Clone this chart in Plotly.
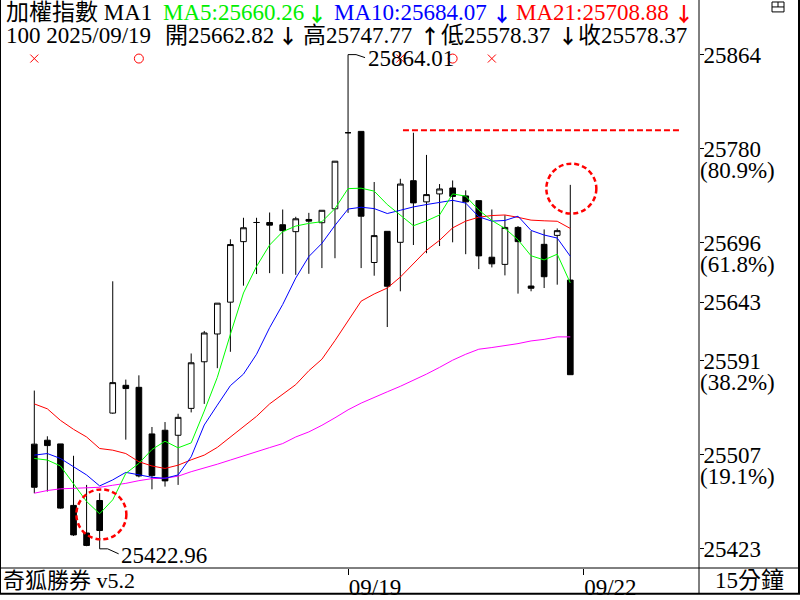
import plotly.graph_objects as go

# ---------------- data ----------------
idx = list(range(42))
opens = [25516.4, 25519.9, 25516.6, 25461.7, 25437.1, 25466.1, 25544.1, 25568.9, 25567.1, 25525.5,
         25528.8, 25524.3, 25548.3, 25589.9, 25614.7, 25643.1, 25697.1, 25714.2, 25714.2, 25712.2,
         25706.0, 25716.9, 25714.0, 25726.4, 25794.3, 25795.5, 25678.5, 25706.3, 25696.5, 25751.5,
         25732.6, 25739.7, 25745.0, 25737.9, 25733.7, 25683.2, 25676.8, 25709.8, 25657.5, 25694.7,
         25702.7, 25662.82]
highs = [25564.2, 25523.4, 25516.6, 25506.0, 25480.0, 25472.6, 25661.7, 25574.0, 25577.8, 25531.7,
         25536.1, 25543.5, 25597.3, 25617.4, 25642.2, 25699.2, 25718.4, 25718.4, 25723.1, 25725.8,
         25719.3, 25722.8, 25725.1, 25768.9, 25864.01, 25795.5, 25750.3, 25706.3, 25753.2, 25794.3,
         25774.5, 25748.5, 25751.7, 25742.9, 25733.7, 25725.8, 25720.7, 25711.0, 25706.5, 25708.0,
         25708.9, 25747.77]
lows = [25472.6, 25474.1, 25458.8, 25434.5, 25425.3, 25422.96, 25543.5, 25520.4, 25486.8, 25476.1,
        25478.5, 25480.0, 25544.7, 25552.3, 25584.2, 25598.8, 25657.8, 25668.2, 25669.0, 25668.4,
        25667.5, 25668.4, 25673.5, 25682.3, 25722.8, 25673.5, 25666.7, 25620.9, 25652.8, 25694.1,
        25686.8, 25693.2, 25696.5, 25685.9, 25672.6, 25674.1, 25667.0, 25650.7, 25652.8, 25655.7,
        25658.7, 25578.37]
closes = [25477.9, 25515.1, 25459.3, 25435.4, 25426.0, 25439.3, 25571.3, 25566.0, 25488.0, 25488.3,
          25483.6, 25540.3, 25589.0, 25615.6, 25642.2, 25694.5, 25709.5, 25714.2, 25711.8, 25706.9,
          25717.5, 25715.4, 25725.1, 25768.9, 25794.3, 25719.8, 25702.5, 25657.3, 25748.5, 25731.7,
          25739.1, 25744.1, 25737.5, 25732.6, 25684.4, 25677.3, 25709.8, 25697.1, 25655.5, 25665.8,
          25706.9, 25578.37]

ma5 = [25503.6, 25502.2, 25496.9, 25481.4, 25465.2, 25454.3, 25466.7, 25490.3, 25499.2, 25511.6,
       25519.0, 25513.1, 25517.5, 25545.9, 25576.0, 25614.4, 25651.3, 25675.0, 25694.1, 25706.0,
       25711.0, 25713.4, 25714.9, 25726.6, 25744.4, 25744.8, 25742.2, 25730.2, 25720.7, 25711.3,
       25715.6, 25720.9, 25739.7, 25737.7, 25725.3, 25716.0, 25708.9, 25698.7, 25684.5, 25680.8,
       25685.9, 25660.26]
ma10 = [25506.6, 25508.0, 25503.6, 25496.2, 25488.9, 25479.1, 25484.5, 25491.2, 25488.9, 25486.8,
        25485.9, 25488.9, 25505.1, 25533.5, 25551.2, 25568.6, 25578.9, 25596.6, 25620.3, 25641.0,
        25664.6, 25683.8, 25695.6, 25711.6, 25726.2, 25727.8, 25726.6, 25722.2, 25725.1, 25728.1,
        25730.2, 25732.0, 25734.0, 25731.5, 25719.3, 25715.4, 25716.0, 25719.8, 25707.1, 25703.0,
        25700.3, 25684.07]
ma21 = [25552.3, 25547.9, 25537.6, 25529.6, 25522.8, 25512.5, 25511.0, 25508.0, 25500.7, 25496.9,
        25494.7, 25497.6, 25502.4, 25506.6, 25513.5, 25522.8, 25531.7, 25541.2, 25552.3, 25561.2,
        25569.5, 25581.9, 25592.2, 25608.8, 25626.9, 25644.0, 25650.4, 25655.7, 25665.5, 25677.9,
        25689.4, 25698.3, 25709.4, 25715.4, 25718.9, 25720.4, 25720.9, 25718.8, 25716.3, 25715.7,
        25715.3, 25708.88]
ma100 = [25472.6, 25475.0, 25476.5, 25477.0, 25477.0, 25477.9, 25479.7, 25481.4, 25483.8, 25485.6,
         25486.0, 25487.8, 25491.8, 25494.9, 25498.5, 25502.2, 25505.7, 25509.3, 25513.3, 25516.9,
         25522.8, 25527.3, 25533.2, 25539.9, 25547.0, 25553.0, 25558.3, 25563.1, 25568.0, 25573.1,
         25578.9, 25584.9, 25591.3, 25596.6, 25601.1, 25602.6, 25604.1, 25606.1, 25608.5, 25609.9,
         25612.1, 25612.1]

# right axis: high/low and fibonacci levels
range_high = 25864.01
range_low = 25422.96
y_ticks = [25864, 25780, 25696, 25643, 25591, 25507, 25423]
y_ticktext = ["25864", "25780", "25696", "25643", "25591", "25507", "25423"]
fib_levels = [25780, 25696, 25591, 25507]
fib_text = ["(80.9%)", "(61.8%)", "(38.2%)", "(19.1%)"]

# date ticks
date_tickvals = [24, 42]
date_ticktext = ["09/19", "09/22"]

# signal markers
sig_level = 25860.5
sig_x = [0, 28, 35]
sig_o = [8, 32]

# horizontal dashed level
dash_level = 25796.6
dash_from, dash_to = 28.2, 49.4

# highlight circles (index, value)
circles = [(5.13, 25453.7), (41.08, 25744.4)]

# header texts: (text, colour, left px)
header1 = [("加權指數 MA1", "#000000", 5),
           ("MA5:25660.26", "#00ee00", 162),
           ("MA10:25684.07", "#0000ff", 333),
           ("MA21:25708.88", "#ff0000", 515)]
header2 = [("100 2025/09/19", "#000000", 5),
           ("開25662.82", "#000000", 164),
           ("高25747.77", "#000000", 302),
           ("低25578.37", "#000000", 440),
           ("收25578.37", "#000000", 577)]
# arrows: (glyph, colour, centre px, line centre px)
arrows = [("↓", "#00ee00", 317, 14), ("↓", "#0000ff", 502, 14), ("↓", "#ff0000", 684, 14),
          ("↓", "#000000", 288, 36), ("↑", "#000000", 430, 36), ("↓", "#000000", 568, 36)]

# ---------------- layout geometry ----------------
W, H = 800, 600
PR, PB = 699, 572  # plot area right / bottom in px
FONT = "Liberation Serif, 'Noto Sans CJK TC', serif"
ARROW_FONT = "'Noto Sans CJK TC', 'DejaVu Sans', sans-serif"


def pxx(p):
    return p / PR


def pxy(p):
    return 1 - p / PB


fig = go.Figure()

fig.add_trace(go.Candlestick(
    x=idx, open=opens, high=highs, low=lows, close=closes,
    increasing=dict(fillcolor="#ffffff", line=dict(color="#000000", width=1)),
    decreasing=dict(fillcolor="#000000", line=dict(color="#000000", width=1)),
    whiskerwidth=0, showlegend=False, hoverinfo="skip"))

for vals, col in [(ma100, "#ff00ff"), (ma21, "#ff0000"), (ma10, "#0000ff"), (ma5, "#00ff00")]:
    fig.add_trace(go.Scatter(x=idx, y=vals, mode="lines", line=dict(color=col, width=1),
                             showlegend=False, hoverinfo="skip"))

fig.add_trace(go.Scatter(x=sig_x, y=[sig_level] * len(sig_x), mode="markers",
                         marker=dict(symbol="x-thin-open", size=8, color="#ff0000",
                                     line=dict(color="#ff0000", width=1)),
                         showlegend=False, hoverinfo="skip"))
fig.add_trace(go.Scatter(x=sig_o, y=[sig_level] * len(sig_o), mode="markers",
                         marker=dict(symbol="circle-open", size=9, color="#ff0000",
                                     line=dict(color="#ff0000", width=1)),
                         showlegend=False, hoverinfo="skip"))

shapes = []
shapes.append(dict(type="line", xref="x", yref="y", x0=dash_from, x1=dash_to,
                   y0=dash_level, y1=dash_level,
                   line=dict(color="#ff0000", width=2, dash="6px,3px")))
for cx, cy in circles:
    shapes.append(dict(type="circle", xref="x", yref="y", xsizemode="pixel", ysizemode="pixel",
                       xanchor=cx, yanchor=cy, x0=-25, x1=25, y0=-25, y1=25,
                       line=dict(color="#ff0000", width=2.5, dash="5px,3px")))
hi_i = highs.index(max(highs))
lo_i = lows.index(min(lows))
shapes.append(dict(type="path", xref="x", yref="y", xsizemode="pixel", ysizemode="pixel",
                   xanchor=hi_i, yanchor=highs[hi_i], path="M0,0 L8,0 L17,-3",
                   line=dict(color="#000000", width=1)))
shapes.append(dict(type="path", xref="x", yref="y", xsizemode="pixel", ysizemode="pixel",
                   xanchor=lo_i, yanchor=lows[lo_i], path="M0,0 L8,0 L19,-5",
                   line=dict(color="#000000", width=1)))
blk = dict(color="#000000", width=1)
shapes += [
    dict(type="line", xref="paper", yref="paper", x0=pxx(PR), x1=pxx(PR), y0=pxy(0), y1=pxy(598), line=blk),
    dict(type="line", xref="paper", yref="paper", x0=pxx(0), x1=pxx(800), y0=pxy(PB), y1=pxy(PB), line=blk),
    dict(type="line", xref="paper", yref="paper", x0=pxx(0), x1=pxx(800), y0=pxy(598), y1=pxy(598), line=dict(color="#000000", width=2)),
    dict(type="line", xref="paper", yref="paper", x0=pxx(799), x1=pxx(799), y0=pxy(0), y1=pxy(598), line=dict(color="#000000", width=2)),
    dict(type="line", xref="paper", yref="paper", x0=pxx(0.5), x1=pxx(0.5), y0=pxy(0), y1=pxy(598), line=blk),
    dict(type="rect", xref="paper", yref="paper", x0=pxx(772), x1=pxx(784), y0=pxy(2), y1=pxy(12), line=blk),
    dict(type="line", xref="paper", yref="paper", x0=pxx(772), x1=pxx(784), y0=pxy(7), y1=pxy(7), line=blk),
    dict(type="line", xref="paper", yref="paper", x0=pxx(778), x1=pxx(778), y0=pxy(2), y1=pxy(7), line=blk),
]

ann = []
for hdr, yc in [(header1, 13), (header2, 36)]:
    for txt, col, xp in hdr:
        ann.append(dict(text=txt, xref="paper", yref="paper", x=pxx(xp), y=pxy(yc), xanchor="left",
                        yanchor="middle", showarrow=False, font=dict(family=FONT, size=23, color=col),
                        borderpad=0))
for g, col, xc, yc in arrows:
    ann.append(dict(text=g, xref="paper", yref="paper", x=pxx(xc), y=pxy(yc), xanchor="center",
                    yanchor="middle", showarrow=False,
                    font=dict(family=ARROW_FONT, size=20, color=col, weight="bold"), borderpad=0))
ann.append(dict(text=f"{highs[hi_i]:.2f}", x=hi_i, y=highs[hi_i], xref="x", yref="y",
                xanchor="left", yanchor="middle", xshift=19, yshift=-4, showarrow=False,
                font=dict(family=FONT, size=23, color="#000000"), borderpad=0))
ann.append(dict(text=f"{lows[lo_i]:.2f}", x=lo_i, y=lows[lo_i], xref="x", yref="y",
                xanchor="left", yanchor="middle", xshift=20, yshift=-7, showarrow=False,
                font=dict(family=FONT, size=23, color="#000000"), borderpad=0))
for lv, t in zip(fib_levels, fib_text):
    ann.append(dict(text=t, x=1, xref="paper", y=lv, yref="y", xanchor="left", yanchor="middle",
                    xshift=0, yshift=-22, showarrow=False,
                    font=dict(family=FONT, size=23, color="#000000"), borderpad=0))
ann.append(dict(text="奇狐勝券 v5.2", xref="paper", yref="paper", x=pxx(2), y=pxy(585),
                xanchor="left", yanchor="middle", showarrow=False,
                font=dict(family=FONT, size=22, color="#000000"), borderpad=0))
ann.append(dict(text="15分鐘", xref="paper", yref="paper", x=pxx(749), y=pxy(585),
                xanchor="center", yanchor="middle", showarrow=False,
                font=dict(family=FONT, size=23, color="#000000"), borderpad=0))

x0 = -34.3 / 13.073
x1 = x0 + PR / 13.073
ypx = 497.7 / (range_high - range_low)
y_top = range_high + 55 / ypx
y_bot = range_high - (PB - 55) / ypx

fig.update_layout(
    width=W, height=H,
    margin=dict(l=0, r=W - PR, t=0, b=H - PB, pad=0),
    paper_bgcolor="#ffffff", plot_bgcolor="#ffffff",
    boxgap=0.38,
    shapes=shapes, annotations=ann,
    showlegend=False,
    xaxis=dict(range=[x0, x1], rangeslider=dict(visible=False), showgrid=False, zeroline=False,
               tickmode="array", tickvals=date_tickvals, ticktext=date_ticktext,
               ticks="outside", ticklen=6, tickcolor="#000000", tickwidth=1,
               ticklabelshift=27, ticklabelstandoff=-8,
               tickfont=dict(family=FONT, size=23, color="#000000"), showline=False),
    yaxis=dict(range=[y_bot, y_top], side="right", showgrid=False, zeroline=False,
               tickmode="array", tickvals=y_ticks, ticktext=y_ticktext,
               ticks="outside", ticklen=4, tickcolor="#000000", tickwidth=1,
               ticklabelstandoff=-5,
               tickfont=dict(family=FONT, size=23, color="#000000"),
               showline=False),
)

fig.write_html("out.html", config={"displayModeBar": False},
               post_script="document.body.style.margin='0';")
